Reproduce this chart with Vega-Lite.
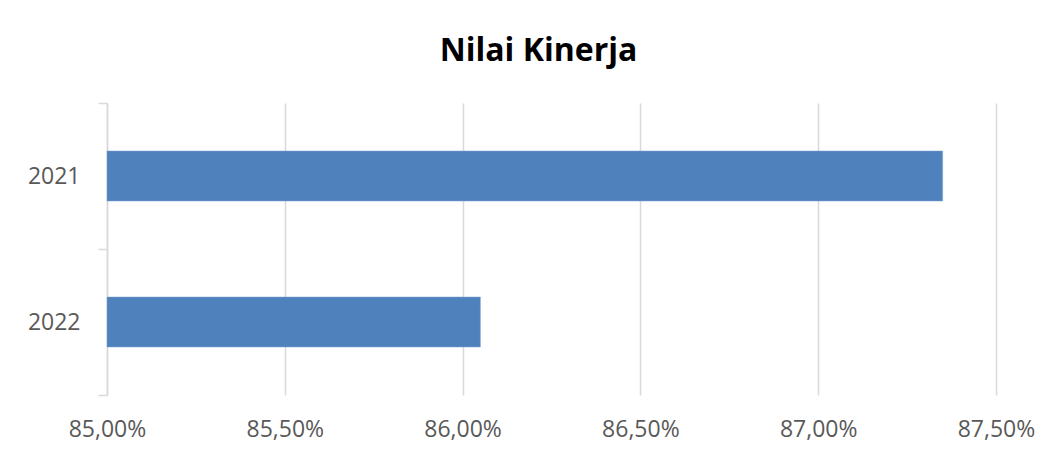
{
  "$schema": "https://vega.github.io/schema/vega-lite/v6.json",
  "width": 889,
  "height": 292,
  "autosize": {"type": "none"},
  "padding": {"left": 107, "top": 103, "right": 54, "bottom": 62},
  "background": "white",
  "config": {
    "locale": {"number": {"decimal": ",", "thousands": ".", "grouping": [3], "currency": ["", ""]}},
    "view": {"stroke": null},
    "font": "Open Sans"
  },
  "title": {
    "text": "Nilai Kinerja",
    "font": "Open Sans",
    "fontSize": 32,
    "fontWeight": "bold",
    "color": "#000000",
    "anchor": "middle",
    "dx": -13,
    "offset": 24
  },
  "data": {
    "values": [
      {"tahun": "2021", "nilai": 0.8735},
      {"tahun": "2022", "nilai": 0.8605}
    ]
  },
  "mark": {"type": "bar", "color": "#4f81bd", "stroke": "#7fa3d1", "strokeWidth": 0.5, "size": 50},
  "encoding": {
    "y": {
      "field": "tahun",
      "type": "nominal",
      "sort": ["2021", "2022"],
      "scale": {"paddingInner": 0, "paddingOuter": 0},
      "axis": {
        "title": null,
        "grid": false,
        "domain": true,
        "domainColor": "#d9d9d9",
        "domainWidth": 1.5,
        "ticks": true,
        "tickBand": "extent",
        "tickColor": "#d9d9d9",
        "tickWidth": 1.5,
        "tickSize": 9,
        "labelPadding": 18,
        "labelFont": "Open Sans",
        "labelFontSize": 23,
        "labelColor": "#595959"
      }
    },
    "x": {
      "field": "nilai",
      "type": "quantitative",
      "scale": {"domain": [0.85, 0.875], "zero": false, "nice": false},
      "axis": {
        "title": null,
        "values": [0.85, 0.855, 0.86, 0.865, 0.87, 0.875],
        "format": ".2%",
        "grid": true,
        "gridColor": "#d9d9d9",
        "gridWidth": 1.5,
        "domain": false,
        "ticks": false,
        "labelFlush": false,
        "labelPadding": 23,
        "labelFont": "Open Sans",
        "labelFontSize": 23,
        "labelColor": "#595959"
      }
    },
    "x2": {"datum": 0.85}
  }
}
